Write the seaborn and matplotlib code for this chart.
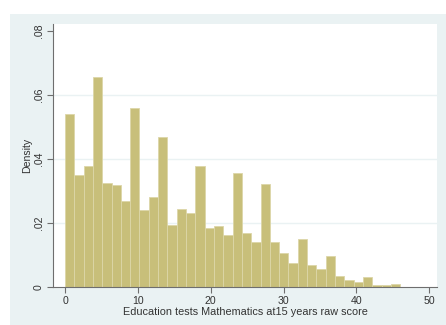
import numpy as np
import pandas as pd
import matplotlib
matplotlib.use("Agg")
import matplotlib.pyplot as plt
import seaborn as sns
from matplotlib.patches import Rectangle

# Histogram of raw maths scores at age 15 (density scale, 36 bins over 0-46)
score_min = 0
score_max = 46
n_bins = 36
density = [
    0.0540, 0.0351, 0.0379, 0.0655, 0.0325, 0.0318, 0.0268, 0.0559, 0.0240,
    0.0282, 0.0470, 0.0195, 0.0245, 0.0231, 0.0377, 0.0184, 0.0190, 0.0164,
    0.0355, 0.0168, 0.0140, 0.0322, 0.0141, 0.0108, 0.0075, 0.0151, 0.0070,
    0.0056, 0.0098, 0.0035, 0.0022, 0.0017, 0.0031, 0.0008, 0.0008, 0.0011,
]
x_ticks = [0, 10, 20, 30, 40, 50]
y_ticks = [0, 0.02, 0.04, 0.06, 0.08]
y_tick_labels = ["0", ".02", ".04", ".06", ".08"]
x_title = "Education tests Mathematics at15 years raw score"
y_title = "Density"

sns.set_style("white")
plt.rcParams["font.family"] = ["Liberation Sans", "DejaVu Sans"]

edges = np.linspace(score_min, score_max, n_bins + 1)
hist_df = pd.DataFrame({
    "score": (edges[:-1] + edges[1:]) / 2,
    "density": density,
})

fig = plt.figure(figsize=(4.46, 3.25), dpi=100, facecolor="white")
# Stata-style graph region behind the plot
region = Rectangle((10 / 446, 0), 1, (325 - 14) / 325,
                   transform=fig.transFigure, facecolor="#EAF2F3",
                   edgecolor="none", zorder=-10)
fig.add_artist(region)
ax = fig.add_axes([53 / 446, (325 - 287.3) / 325, (437 - 53) / 446, (287.3 - 24) / 325])
ax.set_zorder(1)
ax.set_facecolor("white")

sns.histplot(data=hist_df, x="score", weights="density", bins=n_bins,
             binrange=(score_min, score_max), stat="count",
             color="#C8BF7A", edgecolor="#DCD6A8", linewidth=0.6, alpha=1,
             ax=ax)
for p in ax.patches:
    p.set_zorder(2)

ax.set_xlim(-1.65, 51.06)
ax.set_ylim(0, 0.0821)
ax.set_yticks(y_ticks)
ax.set_yticklabels(y_tick_labels, rotation=90, va="center")
ax.set_xticks(x_ticks)
ax.set_xticklabels([str(t) for t in x_ticks])

for y in y_ticks[1:-1]:
    ax.axhline(y, color="#EAF2F3", linewidth=1.0, zorder=1)

for side in ["top", "right"]:
    ax.spines[side].set_visible(False)
for side in ["left", "bottom"]:
    ax.spines[side].set_color("#6E6E6E")
    ax.spines[side].set_linewidth(0.8)

ax.tick_params(axis="both", which="major", length=4, width=0.8, color="#6E6E6E",
               labelsize=7.6, labelcolor="#333333", pad=2.5, left=True, bottom=True)
ax.set_xlabel(x_title, fontsize=7.8, color="#333333", labelpad=0.5)
ax.set_ylabel(y_title, fontsize=7.6, color="#333333", labelpad=1)

fig.savefig("out.png", dpi=100, facecolor="white")
